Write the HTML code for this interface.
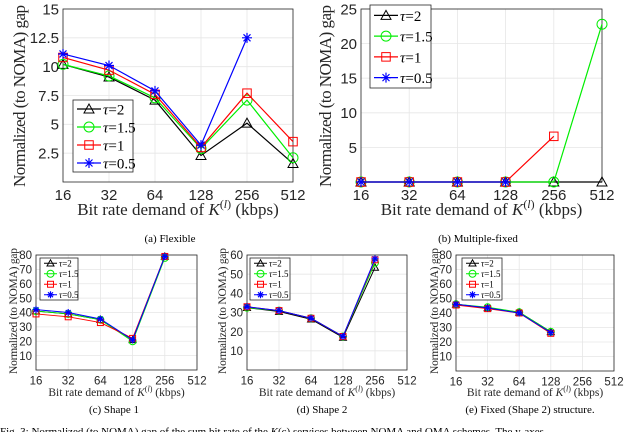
<!DOCTYPE html>
<html><head><meta charset="utf-8"><style>
body{margin:0;background:#fff;width:640px;height:432px;overflow:hidden}
svg{display:block}
</style></head><body>
<svg id="fig" width="640" height="432" xmlns="http://www.w3.org/2000/svg"></svg>
<script>
const categories=['16','32','64','128','256','512'];
const legendLabels=['τ=2','τ=1.5','τ=1','τ=0.5'];
// (a) Flexible
const aTau2=[10.2,9.1,7.1,2.3,5.1,1.6];
const aTau15=[10.2,9.2,7.3,2.9,7.1,2.1];
const aTau1=[10.8,9.7,7.6,3.0,7.7,3.5];
const aTau05=[11.1,10.1,7.9,3.2,12.5,null];
const aTicks=[2.5,5,7.5,10,12.5,15];
// (b) Multiple-fixed
const bTau2=[0,0,0,0,0,0];
const bTau15=[0,0,0,0,0,22.8];
const bTau1=[0,0,0,0,6.6,null];
const bTau05=[0,0,0,0,null,null];
const bTicks=[5,10,15,20,25];
// (c) Shape 1
const cTau2=[41,39,35,21,79,null];
const cTau15=[41,39,35,20,78,null];
const cTau1=[39,37,33,22,79,null];
const cTau05=[42,40,35.5,21,79,null];
const cTicks=[10,20,30,40,50,60,70,80];
// (d) Shape 2
const dTau2=[32.5,30.5,26.5,17,53.5,null];
const dTau15=[32.5,31,27,17.5,56,null];
const dTau1=[33,31,27,17.5,57.5,null];
const dTau05=[33,31,27,17.5,58,null];
const dTicks=[10,20,30,40,50,60];
// (e) Fixed
const eTau2=[46,43.5,40.5,27,null,null];
const eTau15=[46,44,40.5,27,null,null];
const eTau1=[45.5,43,40,26,null,null];
const eTau05=[46,43.5,40,26.5,null,null];
const eTicks=[10,20,30,40,50,60,70,80];

const NS='http://www.w3.org/2000/svg';
const svg=document.getElementById('fig');
const colors=['#000000','#00ee00','#ff0000','#0000ff'];
function mk(tag,attrs,parent){const e=document.createElementNS(NS,tag);for(const k in attrs)e.setAttribute(k,attrs[k]);(parent||svg).appendChild(e);return e;}
function marker(g,type,x,y,s,c){
  if(type===0)return mk('polygon',{points:`${x},${y-s} ${x-s},${y+s*0.8} ${x+s},${y+s*0.8}`,fill:'none',stroke:c,'stroke-width':1},g);
  if(type===1)return mk('circle',{cx:x,cy:y,r:s,fill:'none',stroke:c,'stroke-width':1},g);
  if(type===2)return mk('rect',{x:x-s*0.85,y:y-s*0.85,width:s*1.7,height:s*1.7,fill:'none',stroke:c,'stroke-width':1},g);
  return mk('path',{d:`M${x-s},${y}H${x+s}M${x},${y-s}V${y+s}M${x-s*0.7},${y-s*0.7}L${x+s*0.7},${y+s*0.7}M${x-s*0.7},${y+s*0.7}L${x+s*0.7},${y-s*0.7}`,stroke:c,'stroke-width':1.2},g);
}
function plot(o){
  const g=mk('g',{});
  
  
  const xs=i=>o.x0+(o.x1-o.x0)*i/(categories.length-1);
  const ys=v=>o.y1-(o.y1-o.y0)*v/o.ymax;
  mk('rect',{x:o.x0,y:o.y0,width:o.x1-o.x0,height:o.y1-o.y0,fill:'#fff'},g);
  categories.forEach((c,i)=>{mk('line',{x1:xs(i),x2:xs(i),y1:o.y0,y2:o.y1,stroke:'#e6e6e6','stroke-width':0.8},g);});
  o.ticks.forEach(t=>{mk('line',{x1:o.x0,x2:o.x1,y1:ys(t),y2:ys(t),stroke:'#e6e6e6','stroke-width':0.8},g);});
  mk('rect',{x:o.x0,y:o.y0,width:o.x1-o.x0,height:o.y1-o.y0,fill:'none',stroke:'#262626','stroke-width':0.8},g);
  const xt=mk('g',{},g);
  
  
  categories.forEach((c,i)=>{const t=mk('text',{x:xs(i),y:o.y1+o.tf+3,'text-anchor':'middle','font-size':o.tf,fill:'#262626','font-family':'Liberation Sans, sans-serif'},xt);t.textContent=c;});
  const yt=mk('g',{},g);
  
  
  o.ticks.forEach(v=>{const t=mk('text',{x:o.x0-4,y:ys(v)+o.tf*0.36,'text-anchor':'end','font-size':o.tf,fill:'#262626','font-family':'Liberation Sans, sans-serif'},yt);t.textContent=v;});
  const xl=mk('text',{x:(o.x0+o.x1)/2,y:o.xly,'text-anchor':'middle','font-size':o.lf,fill:'#262626','font-family':'Liberation Serif, serif'},g);
  
  
  xl.innerHTML='Bit rate demand of <tspan font-style="italic">K</tspan><tspan dy="-'+(o.lf*0.4)+'" font-size="'+(o.lf*0.7)+'">(<tspan font-style="italic">l</tspan>)</tspan><tspan dy="'+(o.lf*0.4)+'"> (kbps)</tspan>';
  const yl=mk('text',{x:0,y:0,transform:`translate(${o.ylx},${o.ylc}) rotate(-90)`,'text-anchor':'middle','font-size':o.lf,fill:'#262626','font-family':'Liberation Serif, serif',textLength:o.yll,lengthAdjust:'spacing'},g);
  
  
  yl.textContent='Normalized (to NOMA) gap';
  o.series.forEach((s,k)=>{
    const sg=mk('g',{},g);
    
    
    let d='';s.forEach((v,i)=>{if(v==null)return;d+=(d?'L':'M')+xs(i)+','+ys(v);});
    mk('path',{d:d,fill:'none',stroke:colors[k],'stroke-width':o.lw},sg);
    s.forEach((v,i)=>{if(v!=null)marker(sg,k,xs(i),ys(v),o.ms,colors[k]);});
  });
  const L=o.leg;const lg=mk('g',{},g);
  
  
  mk('rect',{x:L.x,y:L.y,width:L.w,height:L.h,fill:'#fff',stroke:'#262626','stroke-width':0.8},lg);
  legendLabels.forEach((lab,k)=>{
    const e=mk('g',{},lg);
    
    
    const yy=L.y+L.h*(k+0.5)/4;
    mk('line',{x1:L.x+4,x2:L.x+L.lw,y1:yy,y2:yy,stroke:colors[k],'stroke-width':o.lw},e);
    marker(e,k,L.x+4+(L.lw-4)/2,yy,o.ms,colors[k]);
    const t=mk('text',{x:L.x+L.lw+2,y:yy+L.f*0.36,'font-size':L.f,fill:'#000','font-family':'Liberation Serif, serif'},e);
    t.innerHTML='<tspan font-style="italic">τ</tspan>='+lab.slice(2);
  });
  const cap=mk('text',{x:o.capx,y:o.capy,'text-anchor':'middle','font-size':o.cf,fill:'#000','font-family':'Liberation Serif, serif'},g);
  
  
  cap.textContent=o.cap;
}
plot({name:'plot-flexible',x0:63,x1:293,y0:9,y1:182,ymax:15,ticks:aTicks,series:[aTau2,aTau15,aTau1,aTau05],tf:15,lf:17,lw:1.2,ms:5,ylx:25,ylc:96,yll:182,xly:215,
  leg:{x:73,y:100,w:60,h:72,lw:28,f:15},cap:'(a) Flexible',capx:170,capy:242,cf:11});
plot({name:'plot-multiple-fixed',x0:361,x1:602,y0:9,y1:182,ymax:25,ticks:bTicks,series:[bTau2,bTau15,bTau1,bTau05],tf:15,lf:17,lw:1.2,ms:5,ylx:331,ylc:96,yll:182,xly:215,
  leg:{x:370,y:5,w:61,h:83,lw:28,f:15},cap:'(b) Multiple-fixed',capx:478,capy:242,cf:11});
plot({name:'plot-shape-1',x0:36,x1:197,y0:255,y1:370,ymax:80,ticks:cTicks,series:[cTau2,cTau15,cTau1,cTau05],tf:11.5,lf:11.5,lw:1,ms:3.5,ylx:17,ylc:311,yll:126,xly:396,
  leg:{x:40,y:258,w:38,h:42,lw:17,f:9},cap:'(c) Shape 1',capx:114,capy:413,cf:11});
plot({name:'plot-shape-2',x0:247,x1:407,y0:255,y1:370,ymax:60,ticks:dTicks,series:[dTau2,dTau15,dTau1,dTau05],tf:11.5,lf:11.5,lw:1,ms:3.5,ylx:226,ylc:311,yll:126,xly:396,
  leg:{x:250,y:258,w:40,h:42,lw:17,f:9},cap:'(d) Shape 2',capx:322,capy:413,cf:11});
plot({name:'plot-fixed-shape-2',x0:456,x1:614,y0:255,y1:371,ymax:80,ticks:eTicks,series:[eTau2,eTau15,eTau1,eTau05],tf:11.5,lf:11.5,lw:1,ms:3.5,ylx:438,ylc:311,yll:126,xly:396,
  leg:{x:462,y:258,w:40,h:42,lw:17,f:9},cap:'(e) Fixed (Shape 2) structure.',capx:530,capy:413,cf:11});
const fc=mk('text',{x:0,y:435,'font-size':11,fill:'#000','font-family':'Liberation Serif, serif'});


fc.innerHTML='Fig. 3: Normalized (to NOMA) gap of the sum bit rate of the <tspan font-style="italic">K</tspan>(c) services between NOMA and OMA schemes. The y-axes';
</script>
</body></html>
